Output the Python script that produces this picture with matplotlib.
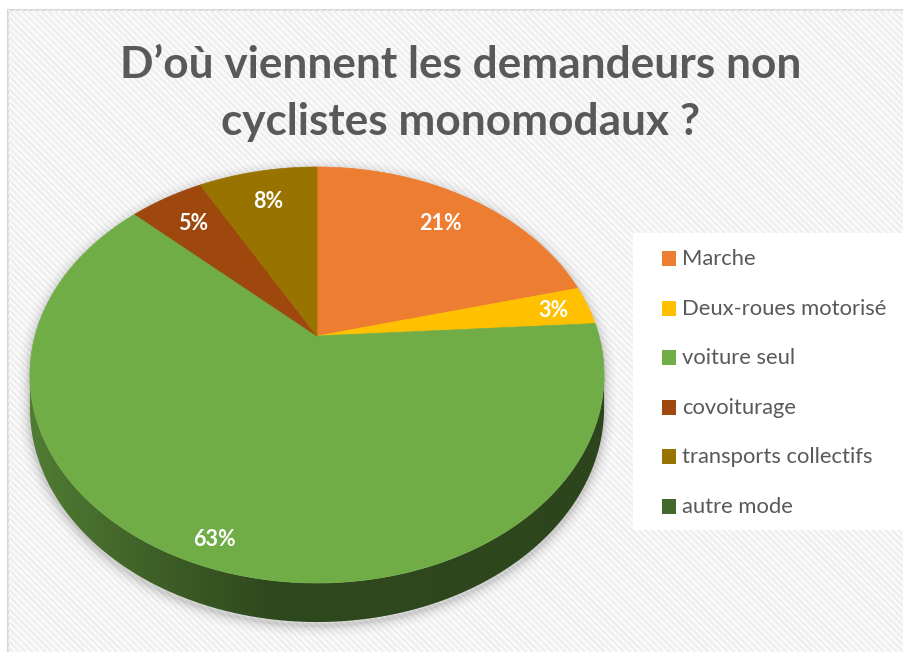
import numpy as np
import matplotlib
matplotlib.use("Agg")
import matplotlib.pyplot as plt
from matplotlib.patches import Polygon, Rectangle
from matplotlib.collections import LineCollection
from matplotlib.colors import to_rgb

# ---------------- data ----------------
title_lines = ["D\u2019où viennent les demandeurs non", "cyclistes monomodaux ?"]
categories = ["Marche", "Deux-roues motorisé", "voiture seul", "covoiturage",
              "transports collectifs", "autre mode"]
values = [21, 3, 63, 5, 8, 0]
colors = ["#ED7D31", "#FFC000", "#70AD47", "#9E480E", "#997300", "#43682B"]
label_radius = [0.8, 0.87, 0.9, 0.8, 0.8, 0.8]

# ---------------- figure ----------------
W, H = 904, 652
fig = plt.figure(figsize=(W / 100, H / 100), dpi=100)
ax = fig.add_axes([0, 0, 1, 1])
ax.set_xlim(0, W)
ax.set_ylim(H, 0)
ax.axis("off")
fig.patch.set_facecolor("white")

FONT = ["Lato", "DejaVu Sans"]
TXT = "#595959"

# chart area with diagonal stripes
frame = Rectangle((8, 10), W, H, facecolor="#fbfbfb", edgecolor="#d9d9d9",
                  lw=1.5, zorder=0)
ax.add_patch(frame)
segs = []
for c in np.arange(-H, W + H, 6.5):
    segs.append([(c, 0), (c + H, H)])
stripes = LineCollection(segs, colors="#eeeeee", linewidths=1.6, zorder=0.5)
ax.add_collection(stripes)
stripes.set_clip_path(frame)

# ---------------- perspective pie geometry ----------------
CX, CY = 317, 336
HX, SY, K = 282, 200.7, 0.1875
D0 = 31.7


def proj(theta, rho=1.0):
    u = rho * np.sin(theta)
    v = rho * np.cos(theta)
    den = 1 + K * v
    return CX + HX * u / den, CY - SY * v / den


def depth(theta):
    return D0 / (1 + K * np.cos(theta))


total = float(sum(values))
bounds = np.concatenate([[0], np.cumsum(values)]) / total * 2 * np.pi

# silhouette (for shadow)
ts = np.arccos(-K)
t_top = np.linspace(-ts, ts, 300)
t_bot = np.linspace(ts, 2 * np.pi - ts, 400)
xt, yt = proj(t_top)
xb, ytb = proj(t_bot)
yb = ytb + depth(t_bot)
sil = np.vstack([np.column_stack([xt, yt]), np.column_stack([xb, yb])])
for lw, a in [(16, 0.018), (12, 0.022), (8, 0.03), (5, 0.04), (2.5, 0.05)]:
    ax.add_patch(Polygon(sil + np.array([0, 3]), closed=True, facecolor="none",
                         edgecolor="black", lw=lw, alpha=a, zorder=1,
                         joinstyle="round"))

# side wall (near half) with horizontal shading, clipped to the wall shape
side_poly = Polygon(np.vstack([np.column_stack([xb, ytb]),
                               np.column_stack([xb, yb])[::-1]]),
                    closed=True, facecolor="none", edgecolor="none", zorder=2)
ax.add_patch(side_poly)


def side_factor(x):
    return np.interp(x, [30, 150, 270, 620], [0.72, 0.56, 0.42, 0.40])


cols = np.arange(0, W) + 0.5
# theta on near side for each screen column (x decreases as theta grows)
order = np.argsort(xb)
th_col = np.interp(cols, xb[order], t_bot[order])
img = np.zeros((1, W, 3))
for j, (x, th) in enumerate(zip(cols, th_col)):
    idx = int(np.clip(np.searchsorted(bounds, th % (2 * np.pi)) - 1, 0,
                      len(values) - 1))
    img[0, j] = np.array(to_rgb(colors[idx])) * side_factor(x)
im = ax.imshow(img, extent=(0, W, yb.max() + 2, ytb.min() - 2),
               aspect="auto", interpolation="bilinear", zorder=2)
im.set_clip_path(side_poly)
ax.set_xlim(0, W)
ax.set_ylim(H, 0)

# top faces
for i, v in enumerate(values):
    if v <= 0:
        continue
    t = np.linspace(bounds[i], bounds[i + 1], 200)
    x, y = proj(t)
    pts = np.vstack([[CX, CY], np.column_stack([x, y])])
    ax.add_patch(Polygon(pts, closed=True, facecolor=colors[i],
                         edgecolor=colors[i], lw=0.5, zorder=3))

# data labels
for i, v in enumerate(values):
    if v <= 0:
        continue
    tm = 0.5 * (bounds[i] + bounds[i + 1])
    lx, ly = proj(tm, label_radius[i])
    ax.text(lx, ly + 1, f"{v}%", color="white", fontsize=15.5, fontweight="bold",
            family=FONT, ha="center", va="center", zorder=5)

# title
for j, line in enumerate(title_lines):
    ax.text(461, 78 + 57 * j, line, color=TXT, fontsize=31.8,
            fontweight="bold", family=FONT, ha="center", va="baseline",
            zorder=5)

# legend
ax.add_patch(Rectangle((633, 233), W - 633 + 5, 297, facecolor="white",
                       edgecolor="none", zorder=4))
for i, cat in enumerate(categories):
    yb_ = 265 + 49.6 * i
    ax.add_patch(Rectangle((662, yb_ - 14), 14, 15, facecolor=colors[i],
                           edgecolor="none", zorder=5))
    ax.text(682, yb_, cat, color=TXT, fontsize=15.8, family=FONT,
            ha="left", va="baseline", zorder=5)

fig.savefig("out.png", dpi=100, facecolor="white")
